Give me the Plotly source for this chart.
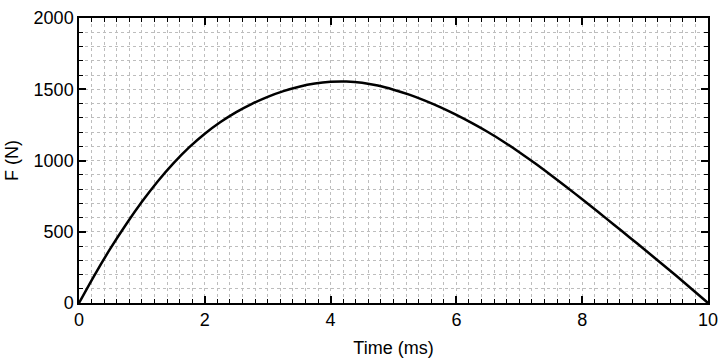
import plotly.graph_objects as go

time_ms = [0, 0.25, 0.5, 0.75, 1.0, 1.25, 1.5, 1.75, 2.0, 2.25, 2.5, 2.75, 3.0, 3.25, 3.5,
           3.75, 4.0, 4.25, 4.5, 4.75, 5.0, 5.25, 5.5, 5.75, 6.0, 6.25, 6.5, 6.75, 7.0,
           7.25, 7.5, 7.75, 8.0, 8.25, 8.5, 8.75, 9.0, 9.25, 9.5, 9.75, 10.0]
force_n = [0, 198, 383, 553, 710, 853, 980, 1092, 1188, 1270, 1340, 1398, 1447, 1487, 1518,
           1540, 1552, 1554, 1546, 1526, 1497, 1462, 1420, 1373, 1320, 1262, 1200, 1132, 1058,
           980, 898, 814, 728, 640, 551, 462, 372, 281, 189, 95, 0]

x_ticks = [0, 2, 4, 6, 8, 10]
y_ticks = [0, 500, 1000, 1500, 2000]

fig = go.Figure(go.Scatter(x=time_ms, y=force_n, mode="lines",
                           line=dict(color="black", width=2.5, shape="spline", smoothing=0.8),
                           showlegend=False))

font = dict(family="Liberation Sans, Arial, sans-serif", size=18, color="black")
grid = dict(showgrid=True, gridcolor="#bdbdbd", gridwidth=1, griddash="dot")

fig.update_xaxes(range=[0, 10], tickvals=x_ticks, ticks="inside", ticklen=7, tickwidth=1.5,
                 tickcolor="black", showline=True, linecolor="black", linewidth=1.5,
                 mirror="allticks", zeroline=False, automargin=False,
                 minor=dict(dtick=0.2, ticks="inside", ticklen=4, tickcolor="black",
                            tickwidth=1.2, **grid),
                 title=dict(text="Time (ms)", font=font, standoff=12), tickfont=font, **grid)
fig.update_yaxes(range=[0, 2000], tickvals=y_ticks, ticks="inside", ticklen=7, tickwidth=1.5,
                 tickcolor="black", showline=True, linecolor="black", linewidth=1.5,
                 mirror="allticks", zeroline=False, automargin=False,
                 minor=dict(dtick=100, ticks="inside", ticklen=4, tickcolor="black",
                            tickwidth=1.2, **grid),
                 title=dict(text="F (N)", font=font, standoff=10), tickfont=font, **grid)

fig.update_layout(width=720, height=360, margin=dict(l=79, r=12, t=18, b=57),
                  plot_bgcolor="white", paper_bgcolor="white", font=font)

fig.write_html("out.html", config={"displayModeBar": False},
               post_script="document.body.style.margin='0';document.body.style.padding='0';")
